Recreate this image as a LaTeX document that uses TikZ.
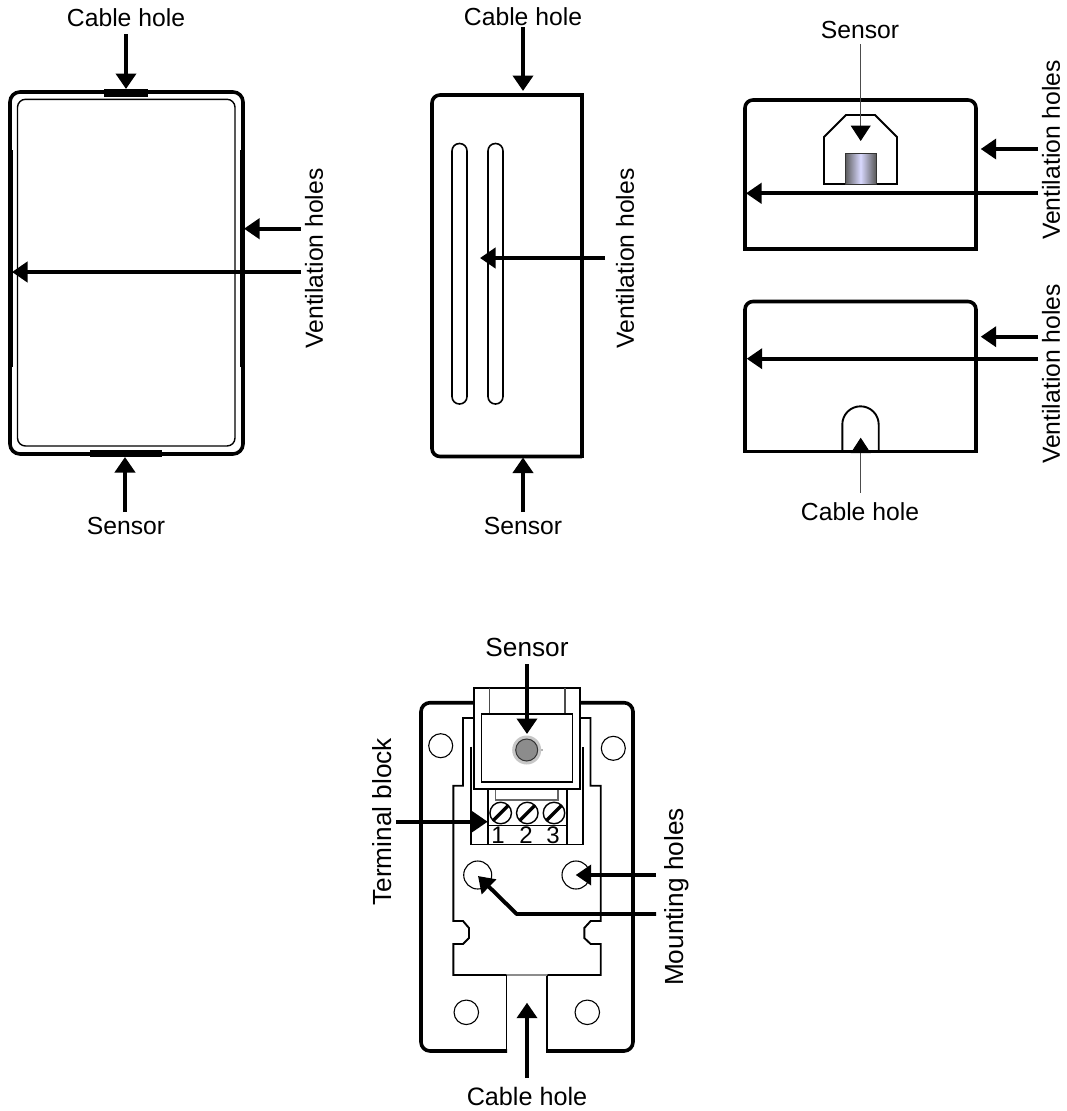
\documentclass[tikz,border=0pt]{standalone}
\usepackage{fontspec}
\setmainfont{Liberation Sans}
\usetikzlibrary{arrows.meta}
\tikzset{
  x=1pt,y=-1pt,
  arr/.style={line width=3.9pt,-{Triangle[width=20pt,length=15.5pt]}},
  thinarr/.style={line width=1pt,draw=black!70,-{Triangle[width=20pt,length=15.5pt,fill=black,color=black]}},
  heavy/.style={line width=3.6pt,line join=round},
  med/.style={line width=1.9pt,line join=miter},
  lite/.style={line width=1.1pt},
  lab/.style={inner sep=0pt,font=\fontsize{24.7}{29}\selectfont},
  bigl/.style={inner sep=0pt,font=\fontsize{26.2}{31}\selectfont},
  vlab/.style={lab,rotate=90},
  vbig/.style={bigl,rotate=90},
  digit/.style={inner sep=0pt,font=\fontsize{24}{28}\selectfont},
  bar/.style={fill=black,draw=none},
  hole/.style={circle,draw,line width=1.1pt,inner sep=0pt},
}
\begin{document}
\begin{tikzpicture}
\useasboundingbox (0,0) rectangle (1066,1111);
% ---- view 1
\draw[heavy,rounded corners=10pt] (10,92) rectangle (243,454);
\draw[line width=1.4pt,rounded corners=8pt] (17.5,99.3) rectangle (235,446);
\fill[bar] (104,89) rectangle (148,96.5);
\fill[bar] (90,449.5) rectangle (162,457);
\fill[bar] (8,150) rectangle (12.7,367);
\fill[bar] (239.7,150) rectangle (244.5,367);
\node[lab] (a1) at (126,17.5) {Cable hole};
\node[lab] (a2) at (126,525.5) {Sensor};
\node[vlab] (a3) at (314,258.5) {Ventilation holes};
\coordinate (a1s) at (126,34); \coordinate (a1e) at (126,89);
\coordinate (a2s) at (125,512); \coordinate (a2e) at (125,457);
\coordinate (a3s) at (300.7,228.7); \coordinate (a3e) at (244,228.7);
\coordinate (a4s) at (300.7,272); \coordinate (a4e) at (12,272);
\draw[arr] (a1s) -- (a1e);
\draw[arr] (a2s) -- (a2e);
\draw[arr] (a3s) -- (a3e);
\draw[arr] (a4s) -- (a4e);
% ---- view 2
\draw[heavy,rounded corners=8pt] (582,95) -- (432,95) -- (432,456.5) -- (582,456.5);
\draw[heavy] (582,93.2) -- (582,458.3);
\draw[line width=1.6pt,rounded corners=7.4pt] (452,143.5) rectangle (467,404);
\draw[line width=1.6pt,rounded corners=7.4pt] (488,143.5) rectangle (503,404);
\node[lab] (b1) at (523,17) {Cable hole};
\node[lab] (b2) at (523,525.5) {Sensor};
\node[vlab] (b3) at (625,258.5) {Ventilation holes};
\coordinate (b1s) at (523,27); \coordinate (b1e) at (523,91);
\coordinate (b2s) at (523,512); \coordinate (b2e) at (523,457.5);
\coordinate (b3s) at (605,258); \coordinate (b3e) at (480,258);
\draw[arr] (b1s) -- (b1e);
\draw[arr] (b2s) -- (b2e);
\draw[arr] (b3s) -- (b3e);
% ---- view 3
\draw[heavy,rounded corners=8pt] (745,249) -- (745,100) -- (976,100) -- (976,249);
\draw[heavy] (743.2,249) -- (977.8,249);
\draw[med] (824,184) -- (824,137) -- (846,115) -- (875,115) -- (897,137) -- (897,184) -- cycle;
\shade[left color=black!65,right color=black!65,middle color=blue!15!white] (845,153) rectangle (876,184);
\draw[line width=1pt,black!80] (845,153) rectangle (876,184);
\node[lab] (c1) at (860,30) {Sensor};
\node[vlab] (c2) at (1051,150) {Ventilation holes};
\coordinate (c1s) at (860.7,44); \coordinate (c1e) at (860.7,141);
\coordinate (c2s) at (1038,149); \coordinate (c2e) at (980.7,149);
\coordinate (c3s) at (1038,193.3); \coordinate (c3e) at (746,193.3);
\draw[thinarr] (c1s) -- (c1e);
\draw[arr] (c2s) -- (c2e);
\draw[arr] (c3s) -- (c3e);
% ---- view 4
\draw[heavy,rounded corners=8pt] (745,451.5) -- (745,301.5) -- (976,301.5) -- (976,451.5);
\draw[heavy] (743.2,451.5) -- (977.8,451.5);
\draw[med] (842.3,451) -- (842.3,424.5) arc[start angle=180,end angle=0,radius=18.2pt] -- (878.7,451);
\node[lab] (d1) at (860,512) {Cable hole};
\node[vlab] (d2) at (1051,374) {Ventilation holes};
\coordinate (d1s) at (860.7,492.7); \coordinate (d1e) at (860.7,437.7);
\coordinate (d2s) at (1038,336.7); \coordinate (d2e) at (980.7,336.7);
\coordinate (d3s) at (1038,358.7); \coordinate (d3e) at (746.7,358.7);
\draw[thinarr] (d1s) -- (d1e);
\draw[arr] (d2s) -- (d2e);
\draw[arr] (d3s) -- (d3e);
% ---- view 5
\draw[heavy,rounded corners=9pt] (474,702.7) -- (421,702.7) -- (421,1051) -- (507,1051);
\draw[heavy,rounded corners=9pt] (580,702.7) -- (633,702.7) -- (633,1051) -- (547,1051);
\draw[med] (506.5,975) -- (506.5,1052.8);
\draw[med] (547.3,975) -- (547.3,1052.8);
\draw[med] (473,718) -- (463,718) -- (463,785.7) -- (453.3,785.7) -- (453.3,921) -- (463,921) -- (469,928) -- (469,938) -- (463,944) -- (453.3,944) -- (453.3,975) -- (506.5,975);
\draw[med] (581,718) -- (590.5,718) -- (590.5,785.7) -- (600.7,785.7) -- (600.7,921) -- (590.7,921) -- (584.3,928) -- (584.3,938) -- (590.7,944) -- (600.7,944) -- (600.7,975) -- (547.3,975);
\draw[lite,black!45] (506.5,975) -- (547.3,975);
% lower block
\draw[med] (471,746.7) -- (471,844.5) -- (582.7,844.5) -- (582.7,746.7);
\draw[med] (487.7,790) -- (487.7,844.5);
\draw[med] (566.7,790) -- (566.7,844.5);
\draw[lite,black!60] (495.5,790) -- (495.5,800) -- (558,800) -- (558,790);
\draw[line width=1.3pt] (487.7,825.3) -- (566.7,825.3);
% housing
\draw[med,line width=2.2pt,fill=white] (474,687.7) rectangle (580,789.3);
\draw[lite,black!70] (489.3,687.7) -- (489.3,714);
\draw[lite,black!70] (565,687.7) -- (565,714);
\draw[line width=1.5pt] (481.7,714) rectangle (572.7,782);
\draw[line width=1.5pt,black!30] (539,750) -- (543,750);
\node[circle,inner sep=0pt,minimum size=29pt,fill=black!22,draw=none] (s0) at (526.7,750) {};
\node[circle,inner sep=0pt,minimum size=22pt,fill=black!45,draw=black!80,line width=1pt] (s1) at (526.7,750) {};
% screws
\foreach \n/\cx in {1/500.7,2/527.3,3/554}{
  \node[circle,inner sep=0pt,minimum size=21.5pt,draw,line width=1.4pt,fill=white] (sc\n) at (\cx,813) {};
  \draw[line width=3.4pt] (\cx-7.5,820.5) -- (\cx+7.5,805.5);
}
\node[digit] (n1) at (498,835) {1};
\node[digit] (n2) at (526,835) {2};
\node[digit] (n3) at (553,835) {3};
% holes
\node[hole,minimum size=24pt] (h1) at (440.7,745.7) {};
\node[hole,minimum size=24pt] (h2) at (613.3,748.3) {};
\node[hole,minimum size=24.5pt] (h3) at (466.3,1012.3) {};
\node[hole,minimum size=24.5pt] (h4) at (587.3,1012.3) {};
\node[hole,minimum size=28pt] (h5) at (477.7,875) {};
\node[hole,minimum size=28pt] (h6) at (576,875) {};
\node[bigl] (e1) at (527,647) {Sensor};
\node[vbig] (e2) at (382,821.7) {Terminal block};
\node[vbig] (e3) at (677,897) {Mounting holes};
\node[lab,font=\fontsize{25.2}{30}\selectfont] (e4) at (527,1096) {Cable hole};
\coordinate (e1s) at (527,664); \coordinate (e1e) at (527,734);
\coordinate (e2s) at (396,821.7); \coordinate (e2e) at (487.7,821.7);
\coordinate (e3s) at (656,875); \coordinate (e3e) at (575.7,875);
\coordinate (e5s) at (656,914); \coordinate (e5m) at (516.7,914); \coordinate (e5e) at (478,876);
\coordinate (e4s) at (527,1078); \coordinate (e4e) at (527,1002.7);
\draw[arr] (e1s) -- (e1e);
\draw[arr] (e2s) -- (e2e);
\draw[arr] (e3s) -- (e3e);
\draw[arr,line join=round] (e5s) -- (e5m) -- (e5e);
\draw[arr] (e4s) -- (e4e);
\end{tikzpicture}
\end{document}
